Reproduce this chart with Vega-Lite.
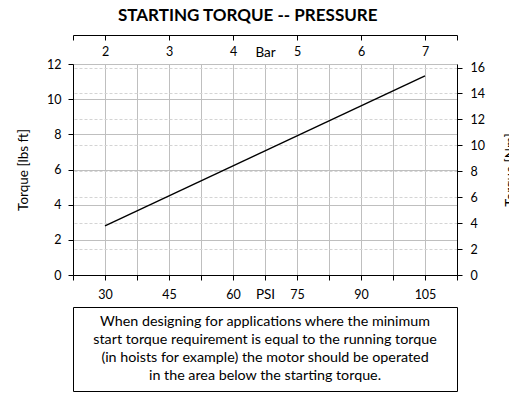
{
  "$schema": "https://vega.github.io/schema/vega-lite/v6.json",
  "padding": {"left": 16, "top": 6, "right": 0, "bottom": 0},
  "title": {"text": "STARTING TORQUE -- PRESSURE", "font": "Lato", "fontSize": 17, "fontWeight": "bold", "color": "#000", "anchor": "middle", "dx": -19, "offset": 10},
  "config": {
    "view": {"stroke": null},
    "axis": {"domainColor": "#000", "tickColor": "#000", "labelColor": "#000", "titleColor": "#000", "labelFont": "Lato", "labelFontSize": 12.5, "titleFont": "Lato", "titleFontSize": 13.5, "titleFontWeight": "normal", "labelOverlap": false, "labelFlush": false}
  },
  "vconcat": [
    {
      "width": 384,
      "height": 211,
      "layer": [
        {
          "data": {"values": [{"psi": 30, "lbf": 2.8}, {"psi": 105, "lbf": 11.33}]},
          "mark": {"type": "line", "color": "#000", "strokeWidth": 1.4},
          "encoding": {
            "x": {"field": "psi", "type": "quantitative",
              "scale": {"domain": [22.5, 112.5], "nice": false, "zero": false},
              "axis": {"orient": "bottom", "values": [22.5, 30, 37.5, 45, 52.5, 60, 67.5, 75, 82.5, 90, 97.5, 105, 112.5],
                "labelExpr": "datum.value % 15 == 0 ? datum.label : ''",
                "grid": true, "gridColor": "#bfbfbf", "gridWidth": 1,
                "tickSize": 5, "labelPadding": 8,
                "title": "PSI", "titleX": 192, "titleY": 19, "titleBaseline": "middle"}},
            "y": {"field": "lbf", "type": "quantitative",
              "scale": {"domain": [0, 12], "nice": false},
              "axis": {"orient": "left", "values": [0, 2, 4, 6, 8, 10, 12],
                "grid": true, "gridColor": "#bfbfbf", "gridWidth": 1,
                "tickSize": 5, "labelPadding": 7,
                "title": "Torque [lbs ft]", "titlePadding": 16}}
          }
        },
        {
          "data": {"values": [{"bar": 2, "nm": 3.8}, {"bar": 7, "nm": 15.36}]},
          "mark": {"type": "line", "color": "#000", "strokeOpacity": 0},
          "encoding": {
            "x": {"field": "bar", "type": "quantitative",
              "scale": {"domain": [1.5, 7.5], "nice": false, "zero": false},
              "axis": {"orient": "top", "offset": 29, "values": [1.5, 2, 3, 4, 5, 6, 7, 7.5],
                "labelExpr": "datum.value == 1.5 || datum.value == 7.5 ? '' : datum.label",
                "grid": false, "tickSize": -5, "labelPadding": -11, "labelBaseline": "middle",
                "title": "Bar", "titleX": 192, "titleY": 17, "titleBaseline": "middle"}},
            "y": {"field": "nm", "type": "quantitative",
              "scale": {"domain": [0, 16.27], "nice": false, "zero": true},
              "axis": {"orient": "right", "values": [0, 2, 4, 6, 8, 10, 12, 14, 16],
                "grid": true, "gridColor": "#d4d4d4", "gridDash": [3, 2], "gridWidth": 1,
                "tickSize": 5, "labelPadding": 8,
                "title": "Torque [Nm]", "titleAngle": 270, "titleBaseline": "top", "titlePadding": 19}}
          }
        }
      ],
      "resolve": {"scale": {"x": "independent", "y": "independent"}}
    },
    {
      "width": 384,
      "height": 84,
      "view": {"stroke": "#000", "strokeWidth": 1},
      "data": {"values": [{"note": "When designing for applications where the minimum\nstart torque requirement is equal to the running torque\n(in hoists for example) the motor should be operated\nin the area below the starting torque."}]},
      "mark": {"type": "text", "lineBreak": "\n", "font": "Lato", "fontSize": 14.3, "lineHeight": 18, "align": "center", "baseline": "middle", "dy": -27, "color": "#000"},
      "encoding": {"text": {"field": "note", "type": "nominal"}}
    }
  ],
  "spacing": 32,
  "bounds": "flush"
}
